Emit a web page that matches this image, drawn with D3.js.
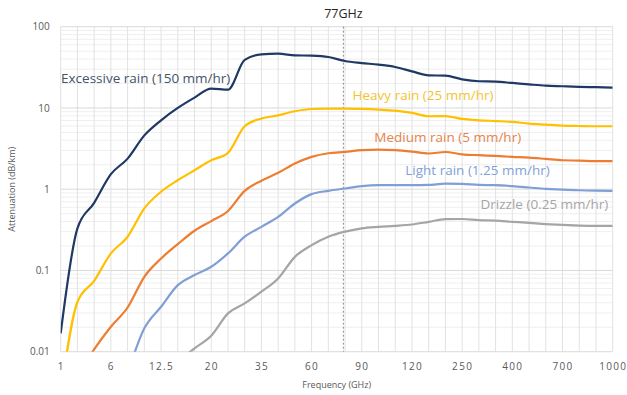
<!DOCTYPE html>
<html>
<head>
<meta charset="utf-8">
<script src="https://cdn.jsdelivr.net/npm/d3@7"></script>
<style>
  html, body { margin: 0; padding: 0; background: #fff; }
  svg { display: block; font-family: "Open Sans", "Liberation Sans", sans-serif; }
</style>
</head>
<body>
<div id="chart"></div>
<script>
// Category axis: 34 frequency steps, a label on every third one
const freqLabels = ["1", "6", "12.5", "20", "35", "60", "90", "120", "250", "400", "700", "1000"];
const categoryCount = 34;
const markerIndex = 16.9;   // 77 GHz position between 60 and 90
const markerLabel = "77GHz";

// Attenuation (dB/km) per category
const excessiveRain = [0.0168, 0.33, 0.68, 1.53, 2.38, 4.6, 7.05, 10, 13.4, 17.3, 16.8, 39, 45.7, 46.5, 44.4, 44, 42.4, 37.8,
  35.7, 34.1, 31.9, 28.2, 25.2, 25, 22.5, 21.3, 21.1, 20.3, 19.5, 18.8, 18.5, 18.2, 18.0, 17.8];
const heavyRain = [0.003, 0.041, 0.0746, 0.162, 0.26, 0.58, 0.93, 1.29, 1.71, 2.27, 2.8, 5.95, 7.4, 8.1, 9.1, 9.7, 9.8, 9.8,
  9.72, 9.54, 9.27, 8.68, 7.9, 7.95, 7.32, 7.05, 6.9, 6.73, 6.42, 6.24, 6.07, 6.0, 5.95, 5.95];
const mediumRain = [0.002, 0.005, 0.0107, 0.0203, 0.035, 0.0836, 0.14, 0.211, 0.308, 0.405, 0.54, 0.955, 1.27, 1.59, 2.07, 2.5, 2.77, 2.88,
  3.02, 3.07, 3.02, 2.9, 2.75, 2.87, 2.69, 2.62, 2.57, 2.5, 2.45, 2.36, 2.27, 2.25, 2.22, 2.22];
const lightRain = [0.001, 0.0015, 0.002, 0.003, 0.006, 0.0194, 0.0357, 0.066, 0.0877, 0.111, 0.162, 0.26, 0.344, 0.457, 0.667, 0.87, 0.955, 1.02,
  1.09, 1.12, 1.12, 1.12, 1.13, 1.17, 1.16, 1.13, 1.12, 1.09, 1.05, 1.01, 0.99, 0.97, 0.96, 0.955];
const drizzle = [0.001, 0.001, 0.0015, 0.002, 0.003, 0.004, 0.005, 0.0075, 0.011, 0.0157, 0.0296, 0.0393, 0.0547, 0.0798, 0.147, 0.205, 0.26, 0.3,
  0.33, 0.344, 0.354, 0.368, 0.397, 0.428, 0.43, 0.416, 0.41, 0.397, 0.385, 0.371, 0.364, 0.357, 0.354, 0.354];

const seriesNames = ["Excessive rain (150 mm/hr)", "Heavy rain (25 mm/hr)", "Medium rain (5 mm/hr)", "Light rain (1.25 mm/hr)", "Drizzle (0.25 mm/hr)"];
const seriesValues = [excessiveRain, heavyRain, mediumRain, lightRain, drizzle];
const lineColors = ["#203864", "#ffc000", "#ed7d31", "#7f9fd6", "#a5a5a5"];
const labelColors = ["#44546a", "#f4c430", "#e8834a", "#7f9fd6", "#a6a6a6"];
// label anchor: category index (left edge) and attenuation value (vertical centre)
const labelPos = [[0.02, 23], [17.45, 14.5], [18.75, 4.3], [20.6, 1.72], [25.1, 0.645]];

const yTicks = [0.01, 0.1, 1, 10, 100];

const width = 627;
const height = 395;
const plot = { left: 60.7, right: 612.7, top: 26.7, bottom: 351.7 };

const svg = d3.select("#chart").append("svg")
  .attr("width", width)
  .attr("height", height);

const x = d3.scaleLinear().domain([0, categoryCount - 1]).range([plot.left, plot.right]);
const y = d3.scaleLog().domain([0.01, 100]).range([plot.bottom, plot.top]);

// Gridlines: minor log steps first, then categories, then decades
const minorTicks = [];
for (let d = 0.01; d < 100; d *= 10) {
  for (let k = 2; k <= 9; k++) minorTicks.push(d * k);
}
const grid = svg.append("g");
grid.selectAll("line.minor")
  .data(minorTicks)
  .join("line")
  .attr("x1", plot.left).attr("x2", plot.right)
  .attr("y1", d => y(d)).attr("y2", d => y(d))
  .attr("stroke", "#efefef").attr("stroke-width", 1);
grid.selectAll("line.vert")
  .data(d3.range(categoryCount))
  .join("line")
  .attr("x1", d => x(d)).attr("x2", d => x(d))
  .attr("y1", plot.top).attr("y2", plot.bottom)
  .attr("stroke", "#e2e2e2").attr("stroke-width", 1);
grid.selectAll("line.major")
  .data(yTicks)
  .join("line")
  .attr("x1", plot.left).attr("x2", plot.right)
  .attr("y1", d => y(d)).attr("y2", d => y(d))
  .attr("stroke", "#dadada").attr("stroke-width", 1);

// Axes (labels only, Excel style)
const xAxis = d3.axisBottom(x)
  .tickValues(d3.range(0, categoryCount, 3))
  .tickFormat((d, i) => freqLabels[i])
  .tickSize(0)
  .tickPadding(11);
svg.append("g")
  .attr("transform", `translate(0,${plot.bottom})`)
  .call(xAxis)
  .call(g => g.select(".domain").remove())
  .call(g => g.selectAll("text")
    .attr("fill", "#595959")
    .attr("font-size", "10px")
    .attr("letter-spacing", "1.3px")
    .attr("font-family", "\"Open Sans\", sans-serif"));

const yAxis = d3.axisLeft(y)
  .tickValues(yTicks)
  .tickFormat(d => String(d))
  .tickSize(0)
  .tickPadding(11);
svg.append("g")
  .attr("transform", `translate(${plot.left},0)`)
  .call(yAxis)
  .call(g => g.select(".domain").remove())
  .call(g => g.selectAll("text")
    .attr("fill", "#595959")
    .attr("font-size", "10px")
    .attr("font-family", "\"Open Sans\", sans-serif"));

svg.append("text")
  .attr("x", (plot.left + plot.right) / 2)
  .attr("y", 388)
  .attr("text-anchor", "middle")
  .attr("fill", "#595959")
  .attr("font-size", "9px")
  .text("Frequency (GHz)");

svg.append("text")
  .attr("transform", `translate(15,${(plot.top + plot.bottom) / 2}) rotate(-90)`)
  .attr("text-anchor", "middle")
  .attr("fill", "#595959")
  .attr("font-size", "9px")
  .text("Attenuation (dB/km)");

// 77 GHz marker
svg.append("line")
  .attr("x1", x(markerIndex)).attr("x2", x(markerIndex))
  .attr("y1", plot.top).attr("y2", plot.bottom)
  .attr("stroke", "#8c8c8c")
  .attr("stroke-width", 1)
  .attr("stroke-dasharray", "2,2");
svg.append("text")
  .attr("x", x(markerIndex))
  .attr("y", 18)
  .attr("text-anchor", "middle")
  .attr("fill", "#262626")
  .attr("font-size", "12.5px")
  .text(markerLabel);

// Series lines, clipped to the plot area
svg.append("clipPath").attr("id", "plot-clip")
  .append("rect")
  .attr("x", plot.left).attr("y", plot.top)
  .attr("width", plot.right - plot.left)
  .attr("height", plot.bottom - plot.top);

const line = d3.line()
  .x((d, i) => x(i))
  .y(d => y(d))
  .curve(d3.curveMonotoneX);

svg.append("g")
  .attr("clip-path", "url(#plot-clip)")
  .selectAll("path")
  .data(seriesValues)
  .join("path")
  .attr("d", d => line(d))
  .attr("fill", "none")
  .attr("stroke", (d, i) => lineColors[i])
  .attr("stroke-width", 2.2)
  .attr("stroke-linejoin", "round");

// Direct labels
svg.append("g")
  .selectAll("text")
  .data(seriesNames)
  .join("text")
  .attr("x", (d, i) => x(labelPos[i][0]))
  .attr("y", (d, i) => y(labelPos[i][1]))
  .attr("dy", "0.35em")
  .attr("fill", (d, i) => labelColors[i])
  .attr("font-size", "13.5px")
  .text(d => d);
</script>
</body>
</html>
